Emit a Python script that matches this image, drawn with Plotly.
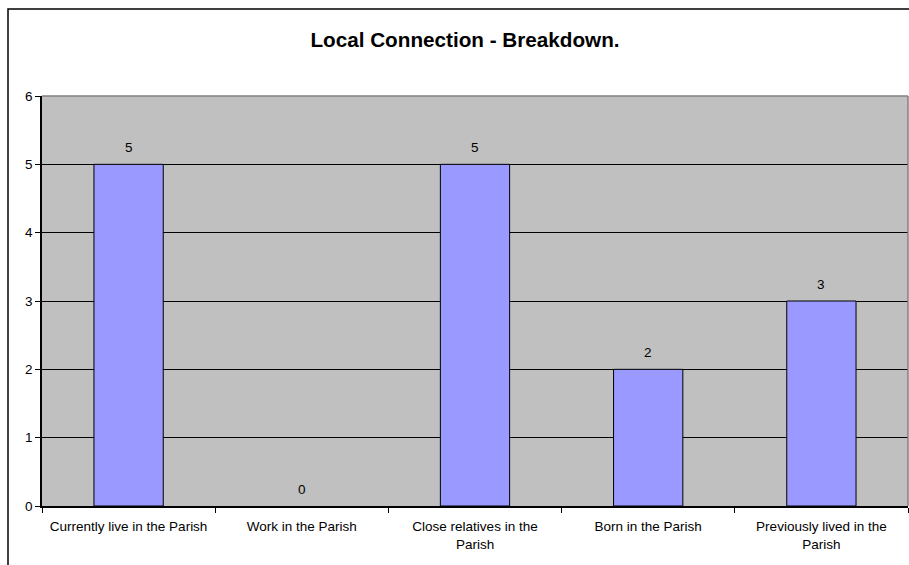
import plotly.graph_objects as go

categories = [
    "Currently live in the Parish",
    "Work in the Parish",
    "Close relatives in the<br>Parish",
    "Born in the Parish",
    "Previously lived in the<br>Parish",
]
counts = [5, 0, 5, 2, 3]
y_ticks = [0, 1, 2, 3, 4, 5, 6]

FONT = "Liberation Sans, Arial, sans-serif"
W, H = 909, 565
ML, MR, MT, MB = 42, 1, 96, 59
plot_w = W - ML - MR
plot_h = H - MT - MB

# empty bars get no outline so nothing is drawn on the baseline
outline_widths = [1 if v > 0 else 0 for v in counts]

fig = go.Figure(
    go.Bar(
        x=categories,
        y=counts,
        marker=dict(color="#9999FF", line=dict(color="black", width=outline_widths)),
        width=0.4,
        hoverinfo="skip",
    )
)

# value labels above each bar
for cat, val in zip(categories, counts):
    fig.add_annotation(
        x=cat, y=val, text=str(val), showarrow=False,
        yanchor="middle", yshift=17,
        font=dict(family=FONT, size=13.5, color="black"),
    )

# chart frame around the whole figure
fx0 = (8 - ML) / plot_w
fy1 = 1 + (MT - 9) / plot_h
fig.add_shape(type="rect", xref="paper", yref="paper",
              x0=fx0, x1=1.2, y0=-0.5, y1=fy1,
              line=dict(color="black", width=1.5), fillcolor="rgba(0,0,0,0)")

# grey top and right edges of the plot area
fig.add_shape(type="line", xref="paper", yref="paper", x0=0, x1=1, y0=1, y1=1,
              line=dict(color="#808080", width=1.5), layer="above")
fig.add_shape(type="line", xref="paper", yref="paper", x0=1, x1=1, y0=0, y1=1,
              line=dict(color="#808080", width=1.5), layer="above")

fig.update_layout(
    width=W, height=H,
    margin=dict(l=ML, r=MR, t=MT, b=MB),
    paper_bgcolor="white",
    plot_bgcolor="#C0C0C0",
    showlegend=False,
    font=dict(family=FONT, size=13.5, color="black"),
    title=dict(
        text="<b>Local Connection - Breakdown.</b>",
        x=465 / W, xref="container", xanchor="center",
        y=1 - 40 / H, yref="container", yanchor="middle",
        font=dict(family=FONT, size=20.7, color="black"),
    ),
    xaxis=dict(
        type="category",
        showgrid=False,
        showline=True, linecolor="black", linewidth=1.5,
        ticks="outside", tickson="boundaries", ticklen=5,
        tickcolor="black", tickwidth=1,
        ticklabelstandoff=7,
        tickfont=dict(family=FONT, size=13.5, color="black"),
        zeroline=False,
    ),
    yaxis=dict(
        range=[0, 6],
        tickvals=y_ticks,
        showgrid=True, gridcolor="black", gridwidth=1,
        showline=True, linecolor="black", linewidth=1.5,
        ticks="outside", ticklen=5, tickcolor="black", tickwidth=1,
        tickfont=dict(family=FONT, size=13.5, color="black"),
        zeroline=False,
    ),
)

fig.write_html("out.html")
